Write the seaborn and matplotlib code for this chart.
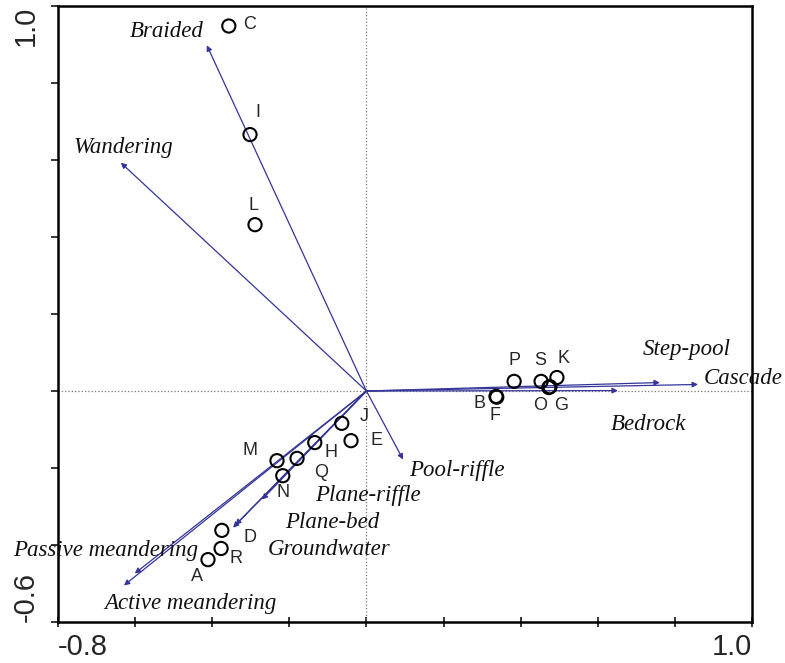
import pandas as pd
import matplotlib
matplotlib.use('Agg')
import matplotlib.pyplot as plt
import seaborn as sns

# site scores (axis 1, axis 2)
sites = ['C', 'I', 'L', 'P', 'S', 'K', 'B', 'F', 'O', 'G',
         'J', 'E', 'H', 'Q', 'M', 'N', 'D', 'R', 'A']
site_x = [-0.357, -0.302, -0.289, 0.383, 0.453, 0.494, 0.336, 0.338, 0.473, 0.476,
          -0.064, -0.040, -0.134, -0.180, -0.232, -0.217, -0.375, -0.377, -0.411]
site_y = [0.948, 0.666, 0.432, 0.025, 0.025, 0.035, -0.014, -0.016, 0.009, 0.011,
          -0.084, -0.129, -0.134, -0.175, -0.181, -0.220, -0.362, -0.409, -0.438]
# where the letters sit
lab_x = [-0.302, -0.281, -0.292, 0.383, 0.450, 0.512, 0.292, 0.333, 0.450, 0.505,
         -0.006, 0.025, -0.092, -0.118, -0.302, -0.217, -0.302, -0.339, -0.440]
lab_y = [0.952, 0.723, 0.482, 0.079, 0.079, 0.084, -0.032, -0.064, -0.038, -0.038,
         -0.066, -0.129, -0.160, -0.212, -0.155, -0.264, -0.381, -0.436, -0.482]

# environmental vectors
variables = ['Braided', 'Wandering', 'Step-pool', 'Cascade', 'Bedrock', 'Pool-riffle',
             'Plane-riffle', 'Plane-bed', 'Groundwater', 'Passive meandering', 'Active meandering']
vec_x = [-0.414, -0.637, 0.761, 0.860, 0.652, 0.095, -0.271, -0.346, -0.340, -0.601, -0.629]
vec_y = [0.898, 0.593, 0.022, 0.017, 0.001, -0.178, -0.282, -0.355, -0.348, -0.474, -0.505]
name_x = [-0.613, -0.761, 0.717, 0.875, 0.634, 0.110, -0.134, -0.212, -0.256, -0.917, -0.681]
name_y = [0.934, 0.632, 0.108, 0.032, -0.087, -0.206, -0.271, -0.341, -0.411, -0.414, -0.552]

df = pd.DataFrame({'site': sites, 'x': site_x, 'y': site_y})

sns.set_style('white')
fig = plt.figure(figsize=(7.85, 6.63), dpi=100)
ax = fig.add_axes([58 / 785, 1 - 622 / 663, (752 - 58) / 785, (622 - 6) / 663])

ax.axvline(0, color='#777777', ls=':', lw=0.9, zorder=1)
ax.axhline(0, color='#777777', ls=':', lw=0.9, zorder=1)

arrow_col = '#34349a'
for vx, vy in zip(vec_x, vec_y):
    ax.annotate('', xy=(vx, vy), xytext=(0, 0),
                arrowprops=dict(arrowstyle='-|>', color=arrow_col, lw=0.9,
                                mutation_scale=8, shrinkA=0, shrinkB=0))

for name, nx, ny in zip(variables, name_x, name_y):
    ax.text(nx, ny, name, family='Liberation Serif', style='italic', fontsize=16.5,
            ha='left', va='center', color='#111111', clip_on=False)

sns.scatterplot(data=df, x='x', y='y', ax=ax, marker='o', s=90,
                facecolor='none', edgecolor='black', linewidth=1.5, zorder=5)

for s, lx, ly in zip(sites, lab_x, lab_y):
    ax.text(lx, ly, s, family='Liberation Sans', fontsize=13, ha='center', va='center')

ax.set_xlim(-0.8, 1.0)
ax.set_ylim(-0.6, 1.0)
ax.set_xticks([-0.8, -0.6, -0.4, -0.2, 0.0, 0.2, 0.4, 0.6, 0.8, 1.0])
ax.set_yticks([-0.6, -0.4, -0.2, 0.0, 0.2, 0.4, 0.6, 0.8, 1.0])
ax.set_xticklabels([])
ax.set_yticklabels([])
ax.tick_params(axis='x', direction='inout', length=7, width=1.3, bottom=True)
ax.tick_params(axis='y', direction='out', length=5, width=1.3, left=True)
ax.set_xlabel('')
ax.set_ylabel('')
for sp in ax.spines.values():
    sp.set_visible(True)
    sp.set_color('black')
    sp.set_linewidth(1.8)

# only the end values are labelled
tick_font = dict(family='Liberation Sans', fontsize=21)
ax.text(-0.8, -0.628, '-0.8', ha='left', va='top', **tick_font)
ax.text(1.0, -0.628, '1.0', ha='right', va='top', **tick_font)
ax.text(-0.848, 1.0, '1.0', ha='right', va='top', rotation=90, **tick_font)
ax.text(-0.848, -0.6, '-0.6', ha='right', va='bottom', rotation=90, **tick_font)

fig.savefig('out.png', dpi=100)
